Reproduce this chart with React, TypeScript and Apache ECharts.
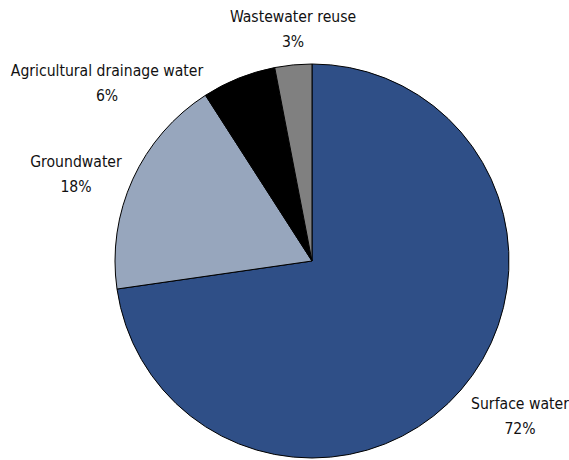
import React, { useEffect, useRef } from "react";
import * as echarts from "echarts";

// Water sources, shares in percent
const categories = ["Surface water", "Groundwater", "Agricultural drainage water", "Wastewater reuse"];
const shares = [72, 18, 6, 3];
const colors = ["#2f4f87", "#97a6bd", "#000000", "#808080"];

// Label anchor points (centre of each two-line label), in pixels
const labelAnchors: [number, number][] = [
  [520, 416],
  [76, 174],
  [107, 83],
  [293, 29],
];

export default function App() {
  const ref = useRef<HTMLDivElement>(null);

  useEffect(() => {
    document.body.style.margin = "0";
    if (!ref.current) return;
    const chart = echarts.init(ref.current, undefined, { renderer: "svg" });
    chart.setOption({
      animation: false,
      backgroundColor: "#ffffff",
      series: [
        {
          type: "pie",
          center: [312, 261],
          radius: 197,
          startAngle: 90,
          clockwise: true,
          avoidLabelOverlap: false,
          itemStyle: { borderColor: "#000000", borderWidth: 1 },
          label: {
            show: true,
            position: "outside",
            formatter: "{b}\n{c}%",
            fontFamily: "'DejaVu Sans Condensed', 'DejaVu Sans', sans-serif",
            fontSize: 15.6,
            lineHeight: 25,
            color: "#111111",
            align: "center",
          },
          labelLine: { show: false },
          labelLayout: (params: any) => {
            const [x, y] = labelAnchors[params.dataIndex];
            return { x, y, align: "center", verticalAlign: "middle" };
          },
          emphasis: { disabled: true },
          data: categories.map((name, i) => ({
            name,
            value: shares[i],
            itemStyle: { color: colors[i] },
          })),
        },
      ],
    });
    return () => chart.dispose();
  }, []);

  return <div ref={ref} style={{ width: 569, height: 460 }} />;
}
